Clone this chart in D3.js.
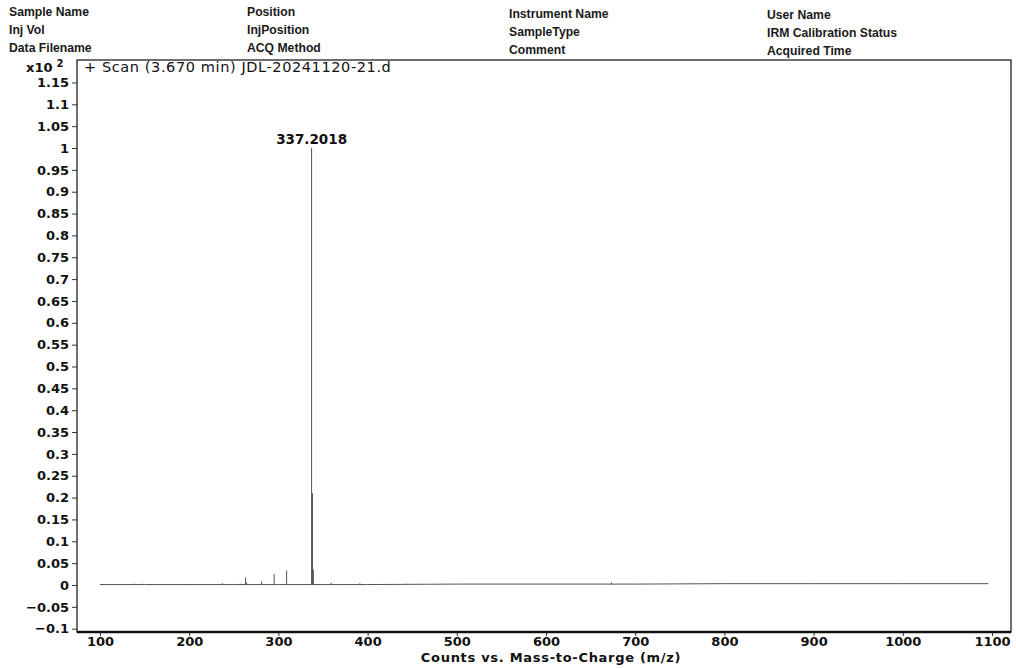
<!DOCTYPE html>
<html>
<head>
<meta charset="utf-8">
<script src="https://cdn.jsdelivr.net/npm/d3@7/dist/d3.min.js"></script>
<style>
  html, body { margin: 0; padding: 0; background: #fff; }
  svg { display: block; }
</style>
</head>
<body>
<svg id="chart" width="1016" height="668"></svg>
<script>
// ---- data ----
const headerCol1 = ["Sample Name", "Inj Vol", "Data Filename"];
const headerCol2 = ["Position", "InjPosition", "ACQ Method"];
const headerCol3 = ["Instrument Name", "SampleType", "Comment"];
const headerCol4 = ["User Name", "IRM Calibration Status", "Acquired Time"];

const chartTitle = "+ Scan (3.670 min) JDL-20241120-21.d";
const xAxisTitle = "Counts vs. Mass-to-Charge (m/z)";
const yScaleLabel = "x10";
const yScaleExp = "2";

const xTicks = [100, 200, 300, 400, 500, 600, 700, 800, 900, 1000, 1100];
const yTicks = [-0.1, -0.05, 0, 0.05, 0.1, 0.15, 0.2, 0.25, 0.3, 0.35, 0.4, 0.45, 0.5,
                0.55, 0.6, 0.65, 0.7, 0.75, 0.8, 0.85, 0.9, 0.95, 1, 1.05, 1.1, 1.15];

// baseline of the profile (m/z, intensity x10^2)
const baselineMz  = [100, 150, 200, 250, 300, 350, 400, 500, 600, 700, 800, 900, 1000, 1096];
const baselineInt = [0.001, 0.001, 0.001, 0.001, 0.001, 0.001, 0.001, 0.002, 0.002, 0.002, 0.003, 0.003, 0.003, 0.003];

// peaks (m/z, intensity x10^2)
const peakMz  = [139.0, 147.1, 237.2, 257.2, 263.2, 264.4, 281.2, 295.2, 309.2, 337.2018, 338.2, 339.2, 359.2, 375.2, 391.3, 413.3, 429.3, 443.3, 673.4];
const peakInt = [0.003, 0.003, 0.004, 0.003, 0.017, 0.006, 0.008, 0.025, 0.033, 1.0, 0.21, 0.035, 0.005, 0.002, 0.004, 0.002, 0.002, 0.003, 0.006];
const labelledPeak = 337.2018;

// ---- layout ----
const frame = { left: 77, right: 1011, top: 60, bottom: 632 };

const svg = d3.select("#chart");

const x = d3.scaleLinear().domain([74.2, 1121.3]).range([frame.left, frame.right]);
const y = d3.scaleLinear().domain([-0.1076, 1.2014]).range([frame.bottom, frame.top]);

// header
const headerCols = [headerCol1, headerCol2, headerCol3, headerCol4];
const headerX = [9, 247, 509, 767];
const headerDy = [0, 0, 2, 3];
headerCols.forEach((col, ci) => {
  svg.append("g").selectAll("text").data(col).join("text")
    .attr("x", headerX[ci])
    .attr("y", (d, i) => 16 + i * 18 + headerDy[ci])
    .attr("font-family", "'Liberation Sans Narrow', 'Arial Narrow', 'Liberation Sans', sans-serif")
    .attr("font-weight", "bold")
    .attr("font-size", 12.2)
    .attr("fill", "#1a1a1a")
    .text(d => d);
});

// axes
const tickFont = "'DejaVu Sans', sans-serif";

const yAxis = d3.axisLeft(y).tickValues(yTicks).tickSize(5).tickPadding(3)
  .tickFormat(d => d3.format("~g")(+d.toFixed(2)));
const gy = svg.append("g").attr("transform", `translate(${frame.left},0)`).call(yAxis);
gy.select(".domain").remove();
gy.selectAll(".tick line").attr("stroke", "#333").attr("stroke-width", 1);
gy.selectAll(".tick text")
  .attr("font-family", tickFont).attr("font-weight", "bold")
  .attr("font-size", 13).attr("fill", "#111");

const xAxis = d3.axisBottom(x).tickValues(xTicks).tickSize(4).tickPadding(1)
  .tickFormat(d3.format("d"));
const gx = svg.append("g").attr("transform", `translate(0,${frame.bottom})`).call(xAxis);
gx.select(".domain").remove();
gx.selectAll(".tick line").attr("stroke", "#333").attr("stroke-width", 1);
gx.selectAll(".tick text")
  .attr("font-family", tickFont).attr("font-weight", "bold")
  .attr("font-size", 13).attr("fill", "#111");

// frame
svg.append("rect")
  .attr("x", frame.left).attr("y", frame.top)
  .attr("width", frame.right - frame.left).attr("height", frame.bottom - frame.top)
  .attr("fill", "none").attr("stroke", "#222").attr("stroke-width", 1.3);
svg.append("line")
  .attr("x1", frame.left).attr("x2", frame.right)
  .attr("y1", frame.bottom).attr("y2", frame.bottom)
  .attr("stroke", "#111").attr("stroke-width", 2.4);

// axis title
svg.append("text")
  .attr("x", 551).attr("y", 662)
  .attr("text-anchor", "middle")
  .attr("font-family", tickFont).attr("font-weight", "bold")
  .attr("font-size", 13).attr("letter-spacing", 0.7).attr("fill", "#111")
  .text(xAxisTitle);

// y scale multiplier
const mult = svg.append("text")
  .attr("x", 26).attr("y", 72)
  .attr("font-family", tickFont).attr("font-weight", "bold")
  .attr("font-size", 13).attr("fill", "#111");
mult.append("tspan").text(yScaleLabel);
mult.append("tspan").attr("dx", 4).attr("dy", -5).attr("font-size", 10).text(yScaleExp);

// chart title
svg.append("text")
  .attr("x", 84).attr("y", 72)
  .attr("font-family", tickFont)
  .attr("font-size", 14.5).attr("letter-spacing", 0.6).attr("fill", "#111")
  .text(chartTitle);

// spectrum
const plot = svg.append("g");
const baseline = baselineMz.map((m, i) => [m, baselineInt[i]]);
plot.append("path")
  .datum(baseline)
  .attr("fill", "none").attr("stroke", "#555").attr("stroke-width", 1)
  .attr("d", d3.line().x(d => x(d[0])).y(d => y(d[1])));

const peaks = peakMz.map((m, i) => ({ mz: m, v: peakInt[i] }));
plot.selectAll("line.peak").data(peaks).join("line")
  .attr("class", "peak")
  .attr("x1", d => x(d.mz)).attr("x2", d => x(d.mz))
  .attr("y1", y(0.001)).attr("y2", d => y(d.v))
  .attr("stroke", "#555").attr("stroke-width", 1);

// peak label
const lp = peaks.find(p => p.mz === labelledPeak);
svg.append("text")
  .attr("x", x(lp.mz)).attr("y", y(lp.v) - 4)
  .attr("text-anchor", "middle")
  .attr("font-family", tickFont).attr("font-weight", "bold")
  .attr("font-size", 13.5).attr("fill", "#111")
  .text(labelledPeak.toFixed(4));
</script>
</body>
</html>
